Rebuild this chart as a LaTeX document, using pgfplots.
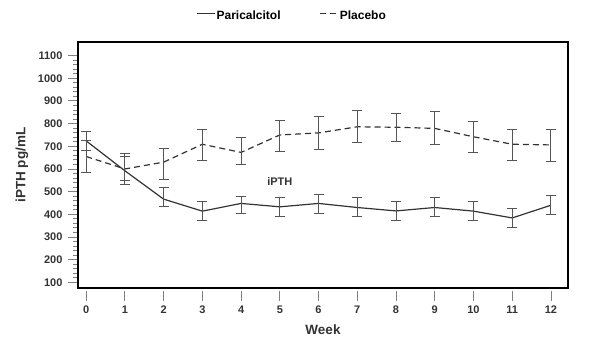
\documentclass[border=0pt]{standalone}
\usepackage{fontspec}
\setmainfont{Liberation Sans}
\usepackage{pgfplots}
\pgfplotsset{compat=1.18}
\usepackage{pgfplotstable}
\pgfplotstableread{
x y ep em
0 724 42 42
1 592 62 60
2 467 50 34
3 414 41 40
4 448 32 44
5 433 40 41
6 448 40 44
7 430 43 41
8 415 43 41
9 430 43 41
10 414 44 40
11 384 42 42
12 440 41 40
}\pari
\pgfplotstableread{
x y ep em
0 655 69 70
1 600 67 52
2 630 61 76
3 709 66 73
4 673 67 53
5 750 63 71
6 759 72 71
7 786 70 69
8 784 62 61
9 779 74 73
10 742 67 69
11 709 67 70
12 706 66 71
}\plac
\definecolor{ln}{HTML}{333333}
\definecolor{eb}{HTML}{555555}
\definecolor{tk}{HTML}{808080}
\begin{document}
\begin{tikzpicture}
\useasboundingbox (0,0) rectangle (590pt,359pt);
\begin{axis}[
  at={(78pt,71pt)}, anchor=south west,
  scale only axis, width=490pt, height=246pt,
  xmin=-0.21, xmax=12.44, ymin=75, ymax=1160,
  xtick={0,...,12}, ytick={100,200,...,1100},
  minor y tick num=4,
  tick align=outside,
  xtick pos=bottom, ytick pos=left,
  major tick length=10pt, minor tick length=5pt,
  every tick/.style={tk, line width=0.9pt},
  xtick style={yshift=-3pt},
  axis line style={black, line width=2pt},
  /pgf/number format/assume math mode=true,
  /pgf/number format/set thousands separator={},
  ticklabel style={font=\bfseries\fontsize{11}{12}\selectfont, text=ln},
  xticklabel style={yshift=-4pt},
  yticklabel style={xshift=-2pt},
  xlabel={\bfseries Week},
  ylabel={\bfseries iPTH pg/mL},
  label style={font=\bfseries\fontsize{13.5}{15}\selectfont, text=ln},
  xlabel style={yshift=-5pt},
  ylabel style={yshift=3pt},
  legend style={at={(0.436,1.105)}, anchor=center, draw=none, fill=none,
    font=\bfseries\fontsize{12}{13}\selectfont, text=black,
    nodes={inner xsep=1pt},
    /tikz/every even column/.append style={column sep=38pt}},
  legend columns=2,
  legend image code/.code={\draw[#1] (0pt,3pt) -- (18pt,3pt);},
]
\addplot[ln, line width=1.2pt, mark=none,
  error bars/.cd, y dir=both, y explicit,
  error bar style={eb, line width=1pt, solid},
  error mark options={eb, line width=1pt, solid, rotate=90, mark size=5pt}]
  table[x=x, y=y, y error plus=ep, y error minus=em]{\pari};
\addlegendentry{Paricalcitol}
\addplot[ln, line width=1.2pt, mark=none, dash pattern=on 6pt off 4pt,
  error bars/.cd, y dir=both, y explicit,
  error bar style={eb, line width=1pt, solid},
  error mark options={eb, line width=1pt, solid, rotate=90, mark size=5pt}]
  table[x=x, y=y, y error plus=ep, y error minus=em]{\plac};
\addlegendentry{Placebo}
\node[font=\bfseries\fontsize{11}{12}\selectfont, text=ln] at (axis cs:5,545) {iPTH};
\end{axis}
\end{tikzpicture}
\end{document}
